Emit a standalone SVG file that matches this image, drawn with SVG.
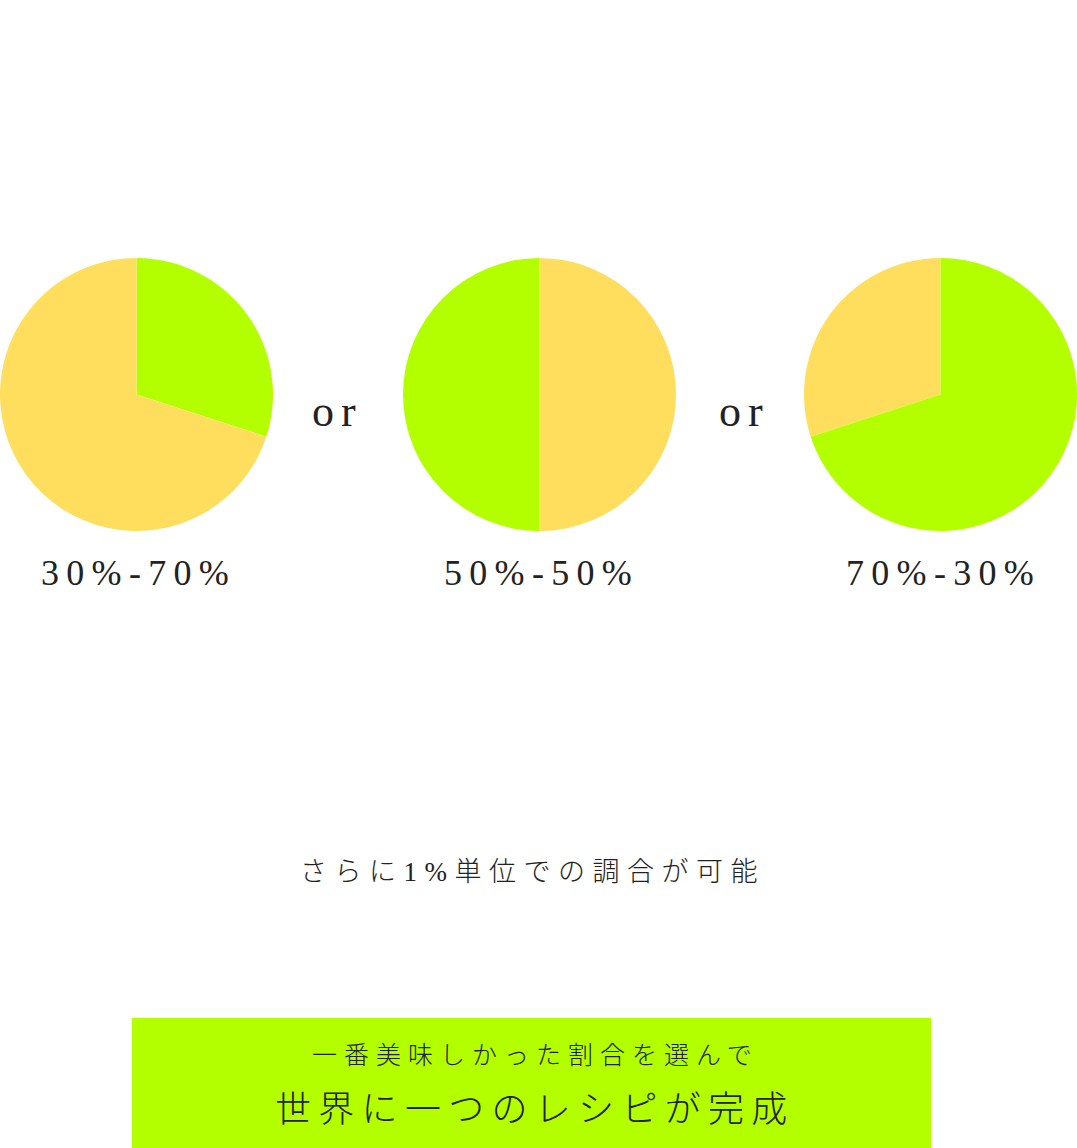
<svg xmlns="http://www.w3.org/2000/svg" width="1077" height="1148" viewBox="0 0 1077 1148">
<style>
.g{fill:#B3FF00}
.y{fill:#FFDE5E}
.lbl{font-family:"Liberation Serif","Noto Sans CJK JP",serif;font-size:36px;letter-spacing:7.3px;fill:#222}
.or{font-family:"Liberation Serif",serif;font-size:44px;letter-spacing:7px;fill:#222}
.jp{font-family:"Liberation Serif","Noto Sans CJK JP",sans-serif;font-weight:300;fill:#222}
</style>
<rect width="1077" height="1148" fill="#fff"/>
<g id="pie1">
<path class="g" d="M136.5,394.5 L136.5,258 A136.5,136.5 0 0,1 266.32,436.68 Z"/>
<path class="y" d="M136.5,394.5 L266.32,436.68 A136.5,136.5 0 1,1 136.5,258 Z"/>
<text class="lbl" x="41" y="585">30%-70%</text>
</g>
<g id="or1"><text class="or" x="312" y="426">or</text></g>
<g id="pie2">
<path class="y" d="M539.5,394.5 L539.5,258 A136.5,136.5 0 0,1 539.5,531 Z"/>
<path class="g" d="M539.5,394.5 L539.5,258 A136.5,136.5 0 0,0 539.5,531 Z"/>
<text class="lbl" x="444" y="585">50%-50%</text>
</g>
<g id="or2"><text class="or" x="719" y="426">or</text></g>
<g id="pie3">
<path class="y" d="M940.5,394.5 L810.68,436.68 A136.5,136.5 0 0,1 940.5,258 Z"/>
<path class="g" d="M940.5,394.5 L940.5,258 A136.5,136.5 0 1,1 810.68,436.68 Z"/>
<text class="lbl" x="846" y="585">70%-30%</text>
</g>
<g id="note">
<text class="jp" x="300" y="881" font-size="27" letter-spacing="7.5">さらに1%単位での調合が可能</text>
</g>
<g id="result">
<rect x="132" y="1018" width="799" height="130" fill="#B3FF00"/>
<text class="jp" x="312" y="1064" font-size="25" letter-spacing="7">一番美味しかった割合を選んで</text>
<text class="jp" x="275" y="1122" font-size="36" letter-spacing="7.3">世界に一つのレシピが完成</text>
</g>
</svg>
